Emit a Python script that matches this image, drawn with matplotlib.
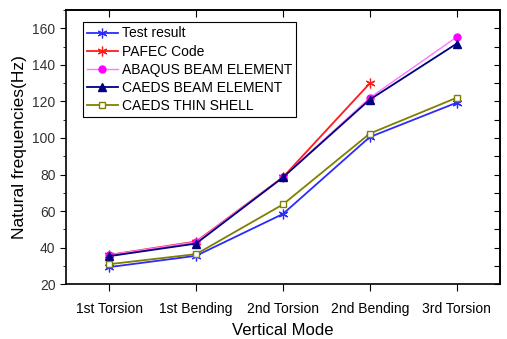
import numpy as np
import matplotlib
import matplotlib.pyplot as plt
from matplotlib.ticker import MultipleLocator

matplotlib.use('Agg')
plt.rcParams['font.family'] = ['Liberation Sans', 'DejaVu Sans']

modes = ["1st Torsion", "1st Bending", "2nd Torsion", "2nd Bending", "3rd Torsion"]
test_result = [29.3, 35.5, 58.4, 100.5, 119.3]
pafec = [36.0, 43.3, 78.5, 129.9]
abaqus = [36.0, 43.1, 78.6, 122.0, 155.2]
caeds_beam = [35.3, 42.2, 78.4, 121.0, 151.6]
caeds_shell = [30.9, 36.4, 63.6, 102.4, 122.0]

x = np.arange(1, len(modes) + 1)
star = (6, 2, 0)

fig = plt.figure(figsize=(5.07, 3.39), dpi=100)
ax = fig.add_axes([0.130, 0.162, 0.856, 0.808])

ax.plot(x, test_result, color='#2b2bff', lw=1.3, marker=star, ms=7, mew=0.9, label='Test result')
ax.plot(x[:len(pafec)], pafec, color='#ff1a1a', lw=1.3, marker=star, ms=7, mew=0.9, label='PAFEC Code')
ax.plot(x, abaqus, color='#ff77ff', lw=1.0, marker='o', ms=5, mfc='#ff00ff', mec='#ff00ff',
        label='ABAQUS BEAM ELEMENT')
ax.plot(x, caeds_beam, color='#000080', lw=1.3, marker='^', ms=6, label='CAEDS BEAM ELEMENT')
ax.plot(x, caeds_shell, color='#808000', lw=1.3, marker='s', ms=5, mfc='white',
        label='CAEDS THIN SHELL')

ax.set_xlim(0.5, 5.5)
ax.set_ylim(20, 170)
ax.set_xticks(x)
ax.set_xticklabels(modes, fontsize=10)
ax.set_yticks(np.arange(20, 161, 20))
ax.yaxis.set_minor_locator(MultipleLocator(10))
ax.tick_params(axis='y', which='major', direction='out', length=4, labelsize=10, labelcolor='#333333')
ax.tick_params(axis='y', which='minor', direction='out', length=2.5)
ax.tick_params(axis='x', direction='out', length=5, labelsize=10, pad=8)

top = ax.secondary_xaxis('top')
top.set_xticks(x)
top.tick_params(direction='in', length=5, labeltop=False)
right = ax.secondary_yaxis('right')
right.set_yticks(np.arange(20, 161, 10))
right.tick_params(direction='in', length=4, labelright=False)

for sp in list(ax.spines.values()) + [top.spines['top'], right.spines['right']]:
    sp.set_linewidth(1.2)

ax.set_xlabel('Vertical Mode', fontsize=12, labelpad=5)
ax.set_ylabel('Natural frequencies(Hz)', fontsize=12.5, labelpad=4)

leg = ax.legend(loc='upper left', bbox_to_anchor=(0.039, 0.956), borderaxespad=0, fontsize=10,
                fancybox=False, edgecolor='black', framealpha=1, handlelength=2.2,
                borderpad=0.3, labelspacing=0.3, handletextpad=0.3)
leg.get_frame().set_linewidth(0.8)

fig.savefig('out.png', dpi=100)
